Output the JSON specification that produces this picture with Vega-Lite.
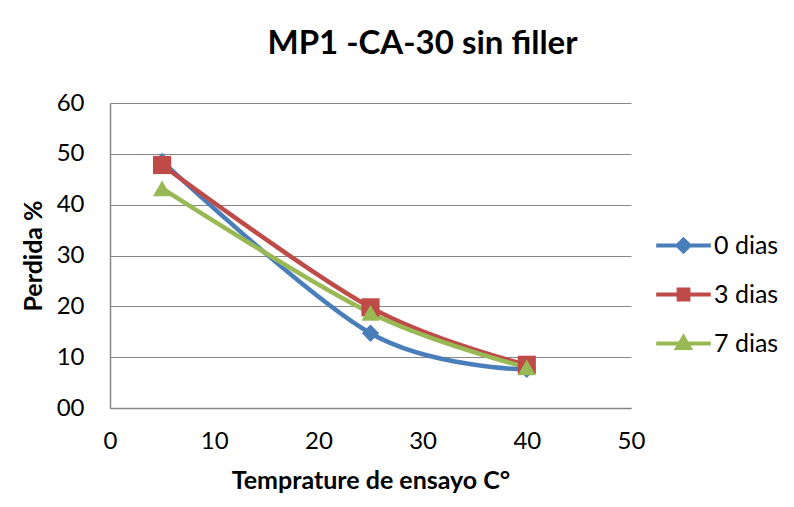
{
  "$schema": "https://vega.github.io/schema/vega-lite/v6.json",
  "autosize": "none",
  "width": 521,
  "height": 305,
  "padding": {"left": 110, "top": 103, "right": 163, "bottom": 99},
  "background": "white",
  "title": {
    "text": "MP1 -CA-30 sin filler",
    "font": "Lato",
    "fontSize": 33,
    "fontWeight": "bold",
    "color": "#000000",
    "anchor": "middle",
    "dx": 52,
    "offset": 30
  },
  "data": {
    "values": [
      {"serie": "0 dias", "temp": 5, "perdida": 48.5},
      {"serie": "0 dias", "temp": 25, "perdida": 14.7},
      {"serie": "0 dias", "temp": 40, "perdida": 7.6},
      {"serie": "3 dias", "temp": 5, "perdida": 47.8},
      {"serie": "3 dias", "temp": 25, "perdida": 19.8},
      {"serie": "3 dias", "temp": 40, "perdida": 8.5},
      {"serie": "7 dias", "temp": 5, "perdida": 43.2},
      {"serie": "7 dias", "temp": 25, "perdida": 18.7},
      {"serie": "7 dias", "temp": 40, "perdida": 8.0}
    ]
  },
  "encoding": {
    "x": {
      "field": "temp",
      "type": "quantitative",
      "scale": {"domain": [0, 50], "nice": false},
      "axis": {
        "values": [0, 10, 20, 30, 40, 50],
        "title": "Temprature de ensayo C°",
        "grid": false,
        "ticks": false,
        "labelFlush": false,
        "labelPadding": 21,
        "titlePadding": 15
      }
    },
    "y": {
      "field": "perdida",
      "type": "quantitative",
      "scale": {"domain": [0, 60], "nice": false},
      "axis": {
        "values": [0, 10, 20, 30, 40, 50, 60],
        "labelExpr": "datum.value == 0 ? '00' : datum.label",
        "title": "Perdida %",
        "grid": true,
        "ticks": false,
        "labelPadding": 26,
        "titlePadding": 10
      }
    },
    "color": {
      "field": "serie",
      "type": "nominal",
      "scale": {"domain": ["0 dias", "3 dias", "7 dias"], "range": ["#4A7EBB", "#BE4B48", "#98B954"]},
      "legend": {
        "title": null,
        "orient": "none",
        "legendX": 561,
        "legendY": 130,
        "symbolSize": 196,
        "symbolStrokeWidth": 4,
        "labelOffset": 18,
        "labelFont": "Lato",
        "labelFontSize": 25,
        "labelColor": "#000000",
        "rowPadding": 21,
        "padding": 0,
        "encode": {
          "symbols": {
            "update": {
              "shape": {"signal": "datum.value === '0 dias' ? 'M-3.9,0L3.9,0M-0.85,0L0,-0.85L0.85,0L0,0.85Z' : datum.value === '3 dias' ? 'M-3.9,0L3.9,0M-0.7,-0.7L0.7,-0.7L0.7,0.7L-0.7,0.7Z' : 'M-3.9,0L3.9,0M0,-0.9L0.9,0.65L-0.9,0.65Z'"},
              "fill": {"signal": "scale('color', datum.value)"},
              "stroke": {"signal": "scale('color', datum.value)"},
              "strokeWidth": {"value": 4},
              "opacity": {"value": 1}
            }
          }
        }
      }
    }
  },
  "layer": [
    {
      "mark": {"type": "line", "interpolate": "cardinal", "strokeWidth": 4.5}
    },
    {
      "transform": [{"filter": "datum.serie === '0 dias'"}],
      "mark": {"type": "point", "shape": "diamond", "filled": true, "opacity": 1, "size": 300}
    },
    {
      "transform": [{"filter": "datum.serie === '3 dias'"}],
      "mark": {"type": "point", "shape": "square", "filled": true, "opacity": 1, "size": 330}
    },
    {
      "transform": [{"filter": "datum.serie === '7 dias'"}],
      "mark": {"type": "point", "shape": "triangle-up", "filled": true, "opacity": 1, "size": 330}
    }
  ],
  "config": {
    "view": {"stroke": null},
    "axis": {
      "labelFont": "Lato",
      "labelFontSize": 24,
      "labelColor": "#000000",
      "titleFont": "Lato",
      "titleFontSize": 25,
      "titleFontWeight": "bold",
      "titleColor": "#000000",
      "domainColor": "#868686",
      "domainWidth": 1.5,
      "gridColor": "#868686",
      "gridWidth": 1.2
    }
  }
}
